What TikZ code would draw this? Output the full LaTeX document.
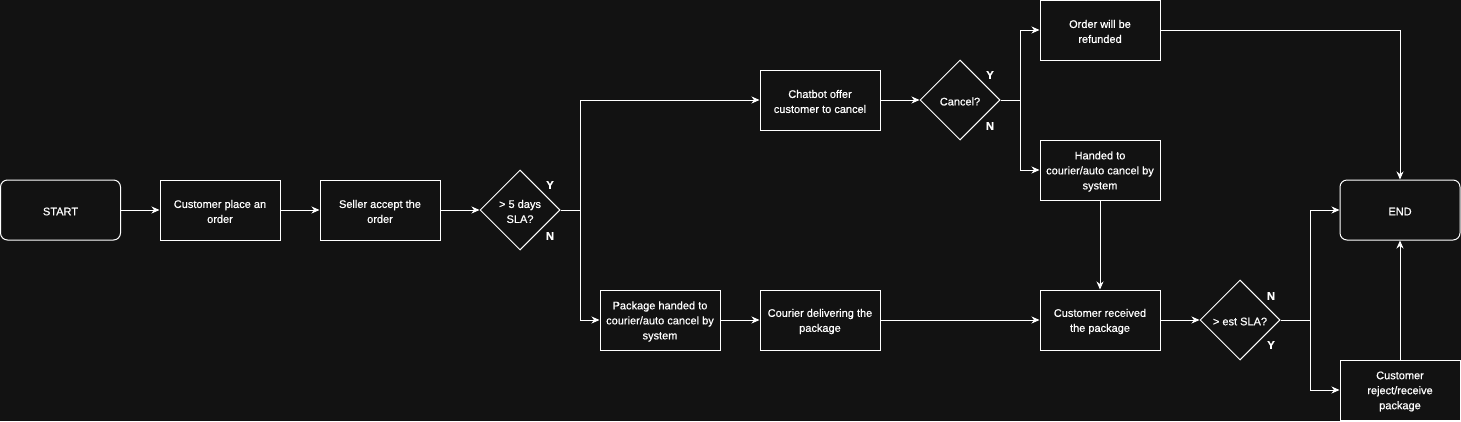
\documentclass[tikz,border=0pt]{standalone}
\usepackage{fontspec}
\setmainfont{Liberation Sans}[FakeBold=0.6]
\usetikzlibrary{shapes.geometric,arrows.meta}
\definecolor{bg}{HTML}{121212}
\begin{document}
\begin{tikzpicture}[x=1pt,y=-1pt,
  every node/.style={font=\fontsize{11}{15}\selectfont, text=white},
  box/.style={draw=white, line width=1pt, fill=bg, minimum width=120pt, minimum height=60pt, inner sep=0pt, align=center},
  rbox/.style={box, rounded corners=7pt},
  dec/.style={draw=white, line width=1pt, fill=bg, diamond, aspect=1, minimum size=80pt, inner sep=0pt, align=center},
  conn/.style={draw=white, line width=1pt, -{Stealth[length=8pt,width=7pt,inset=2.5pt]}},
  lbl/.style={font=\fontsize{11}{13}\selectfont\bfseries, inner sep=0pt},
  txt/.style={inner sep=0pt, align=center}
]
\fill[bg] (0,0) rectangle (1461,421);
\useasboundingbox (0,0) rectangle (1461,421);

\node[rbox] (start) at (60.5,210) {};
\node[box] (cust) at (220,210) {};
\node[box] (seller) at (380,210) {};
\node[dec] (d1) at (520,210) {};
\node[box] (chat) at (820,100) {};
\node[dec] (d2) at (960,100) {};
\node[box] (refund) at (1100,30) {};
\node[box] (handed) at (1100,170) {};
\node[box] (pkg) at (660,320) {};
\node[box] (courier) at (820,320) {};
\node[box] (recv) at (1100,320) {};
\node[dec] (d3) at (1240,320) {};
\node[rbox] (end) at (1400,210) {};
\node[box] (reject) at (1400,390) {};

\node[txt] (t-start) at ([yshift=-1.5pt]start) {START};
\node[txt] (t-cust) at ([yshift=-1.5pt]cust) {Customer place an\\order};
\node[txt] (t-seller) at ([yshift=-1.5pt]seller) {Seller accept the\\order};
\node[txt] (t-d1) at ([yshift=-1.5pt]d1) {> 5 days\\SLA?};
\node[txt] (t-chat) at ([yshift=-1.5pt]chat) {Chatbot offer\\customer to cancel};
\node[txt] (t-d2) at ([yshift=-1.5pt]d2) {Cancel?};
\node[txt] (t-refund) at ([yshift=-1.5pt]refund) {Order will be\\refunded};
\node[txt] (t-handed) at ([yshift=-1.5pt]handed) {Handed to\\courier/auto cancel by\\system};
\node[txt] (t-pkg) at ([yshift=-1.5pt]pkg) {Package handed to\\courier/auto cancel by\\system};
\node[txt] (t-courier) at ([yshift=-1.5pt]courier) {Courier delivering the\\package};
\node[txt] (t-recv) at ([yshift=-1.5pt]recv) {Customer received\\the package};
\node[txt] (t-d3) at ([yshift=-1.5pt]d3) {> est SLA?};
\node[txt] (t-end) at ([yshift=-1.5pt]end) {END};
\node[txt] (t-reject) at ([yshift=-1.5pt]reject) {Customer\\reject/receive\\package};

\coordinate (j1) at ([xshift=20pt]d1.east);
\coordinate (j2) at ([xshift=20pt]d2.east);
\coordinate (j3) at ([xshift=30pt]d3.east);

\draw[conn] (start) -- (cust);
\draw[conn] (cust) -- (seller);
\draw[conn] (seller) -- (d1);
\draw[conn] (d1.east) -- (j1) |- (chat.west);
\draw[conn] (d1.east) -- (j1) |- (pkg.west);
\draw[conn] (chat) -- (d2);
\draw[conn] (d2.east) -- (j2) |- (refund.west);
\draw[conn] (d2.east) -- (j2) |- (handed.west);
\draw[conn] (refund.east) -| (end.north);
\draw[conn] (handed.south) -- (recv.north);
\draw[conn] (pkg) -- (courier);
\draw[conn] (courier) -- (recv);
\draw[conn] (recv) -- (d3);
\draw[conn] (d3.east) -- (j3) |- (end.west);
\draw[conn] (d3.east) -- (j3) |- (reject.west);
\draw[conn] (reject.north) -- (end.south);

\node[lbl] (y1) at (550,185) {Y};
\node[lbl] (n1) at (550,236) {N};
\node[lbl] (y2) at (990,75) {Y};
\node[lbl] (n2) at (990,126) {N};
\node[lbl] (n3) at (1271,296) {N};
\node[lbl] (y3) at (1271,345) {Y};
\end{tikzpicture}
\end{document}
